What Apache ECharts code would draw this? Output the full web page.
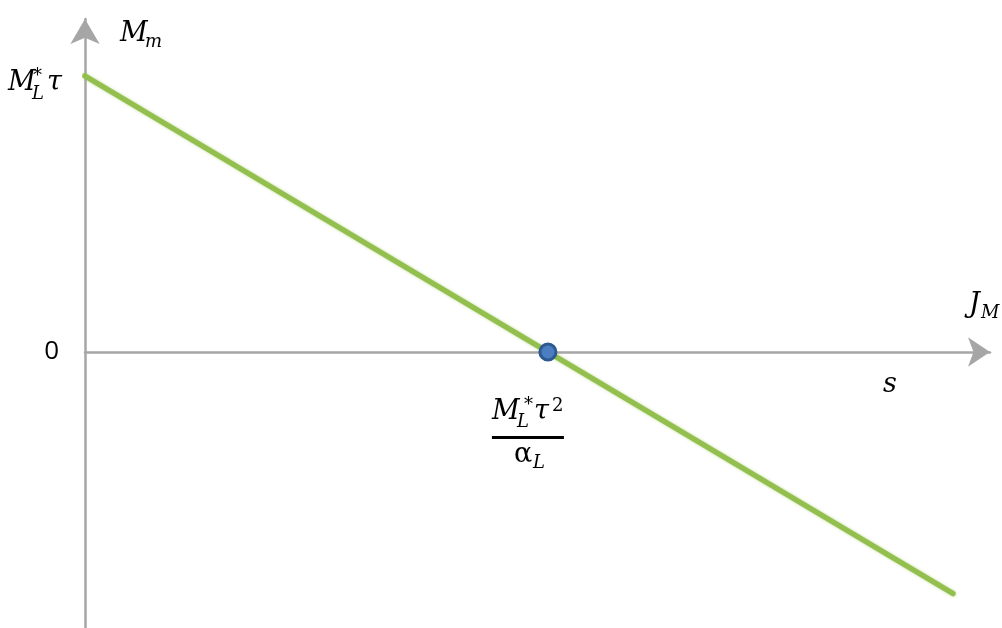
<!DOCTYPE html>
<html>
<head>
<meta charset="utf-8">
<script src="https://cdn.jsdelivr.net/npm/echarts@6/dist/echarts.min.js"></script>
<style>
  html, body { margin: 0; padding: 0; background: #fff; }
  #chart { width: 1002px; height: 628px; }
</style>
</head>
<body>
<div id="chart"></div>
<script>
// Supply line s: M_m falls from M_L*τ at J_M = 0, measured in units of
// M_L*τ (vertical) and M_L*τ²/α_L (horizontal).
const sLineJ = [0, 1.875];
const sLineM = [1, -0.875];
// Where s crosses the J_M axis
const crossJ = [1];
const crossM = [0];
// Only the origin carries a numeric tick label
const yTickLabels = { 0: '0' };
const xRange = [0, 1.955];
const yRange = [-1, 1.2065];

const MATH = '"DejaVu Serif", serif';
const AXIS_GREY = '#a6a6a6';
const BIG = 27;
const SMALL = 18;

const chart = echarts.init(document.getElementById('chart'), null, { renderer: 'canvas' });

chart.setOption({
  animation: false,
  backgroundColor: '#ffffff',
  grid: { left: 85, right: 12, top: 19, bottom: 0 },
  xAxis: {
    type: 'value',
    min: xRange[0],
    max: xRange[1],
    axisLine: {
      show: true,
      onZero: true,
      symbol: ['none', 'arrow'],
      symbolSize: [22, 22],
      lineStyle: { color: AXIS_GREY, width: 2.5 }
    },
    axisTick: { show: false },
    axisLabel: { show: false },
    splitLine: { show: false }
  },
  yAxis: {
    type: 'value',
    min: yRange[0],
    max: yRange[1],
    interval: 1,
    axisLine: {
      show: true,
      onZero: false,
      symbol: ['none', 'arrow'],
      symbolSize: [22, 25],
      lineStyle: { color: AXIS_GREY, width: 2.5 }
    },
    axisTick: { show: false },
    splitLine: { show: false },
    axisLabel: {
      formatter: v => (yTickLabels[v] !== undefined ? yTickLabels[v] : ''),
      fontFamily: '"Open Sans", sans-serif',
      fontSize: 26,
      color: '#000',
      margin: 26
    }
  },
  series: [
    {
      type: 'line',
      data: sLineJ.map((j, i) => [j, sLineM[i]]),
      symbol: 'none',
      silent: true,
      z: 2,
      lineStyle: {
        color: '#93bf4f',
        width: 5.5,
        cap: 'round',
        shadowBlur: 3,
        shadowColor: 'rgba(147,191,79,0.6)'
      }
    },
    {
      type: 'scatter',
      data: crossJ.map((j, i) => [j, crossM[i]]),
      symbolSize: 16,
      z: 3,
      itemStyle: { color: '#4a7ec0', borderColor: '#2d5a91', borderWidth: 3, opacity: 1 }
    }
  ]
});

// Math-style labels: each piece is placed relative to a data anchor,
// dx / dy give the left edge and baseline offset in pixels.
const labels = [
  { at: [0, yRange[1]], parts: [
    { t: 'M', dx: 35, dy: 23, s: BIG, it: true },
    { t: 'm', dx: 60, dy: 29, s: SMALL, it: true }
  ]},
  { at: [0, 1], parts: [
    { t: 'M', dx: -77, dy: 15, s: BIG, it: true },
    { t: '*', dx: -52, dy: 6, s: SMALL, it: false },
    { t: 'L', dx: -53, dy: 24, s: SMALL, it: true },
    { t: 'τ', dx: -38, dy: 15, s: BIG, it: true }
  ]},
  { at: [xRange[1], 0], parts: [
    { t: 'J', dx: -21, dy: -39, s: BIG, it: true },
    { t: 'M', dx: -9, dy: -33, s: SMALL, it: true }
  ]},
  { at: [crossJ[0], crossM[0]], parts: [
    { t: 'M', dx: -56, dy: 68, s: BIG, it: true },
    { t: '*', dx: -24, dy: 59, s: SMALL, it: false },
    { t: 'L', dx: -31, dy: 76, s: SMALL, it: true },
    { t: 'τ', dx: -14, dy: 68, s: BIG, it: true },
    { t: '2', dx: 4, dy: 60, s: SMALL, it: false },
    { t: 'α', dx: -34, dy: 111, s: BIG, it: false },
    { t: 'L', dx: -15, dy: 117, s: SMALL, it: true }
  ], bar: { dx: -56, dy: 84, w: 72, h: 3 } },
  { at: [sLineJ[1], sLineM[1]], parts: [
    { t: 's', dx: -70, dy: -200, s: BIG, it: true }
  ]}
];

const elements = [];
labels.forEach(lab => {
  const p = chart.convertToPixel({ gridIndex: 0 }, lab.at);
  lab.parts.forEach(q => {
    elements.push({
      type: 'text',
      x: p[0] + q.dx,
      y: p[1] + q.dy - 0.3 * q.s,
      z: 10,
      style: {
        text: q.t,
        font: (q.it ? 'italic ' : '') + q.s + 'px ' + MATH,
        fill: '#000',
        align: 'left',
        textAlign: 'left',
        verticalAlign: 'middle',
        textVerticalAlign: 'middle'
      }
    });
  });
  if (lab.bar) {
    elements.push({
      type: 'rect',
      z: 10,
      shape: { x: p[0] + lab.bar.dx, y: p[1] + lab.bar.dy, width: lab.bar.w, height: lab.bar.h },
      style: { fill: '#000' }
    });
  }
});

chart.setOption({ graphic: { elements } });
</script>
</body>
</html>
